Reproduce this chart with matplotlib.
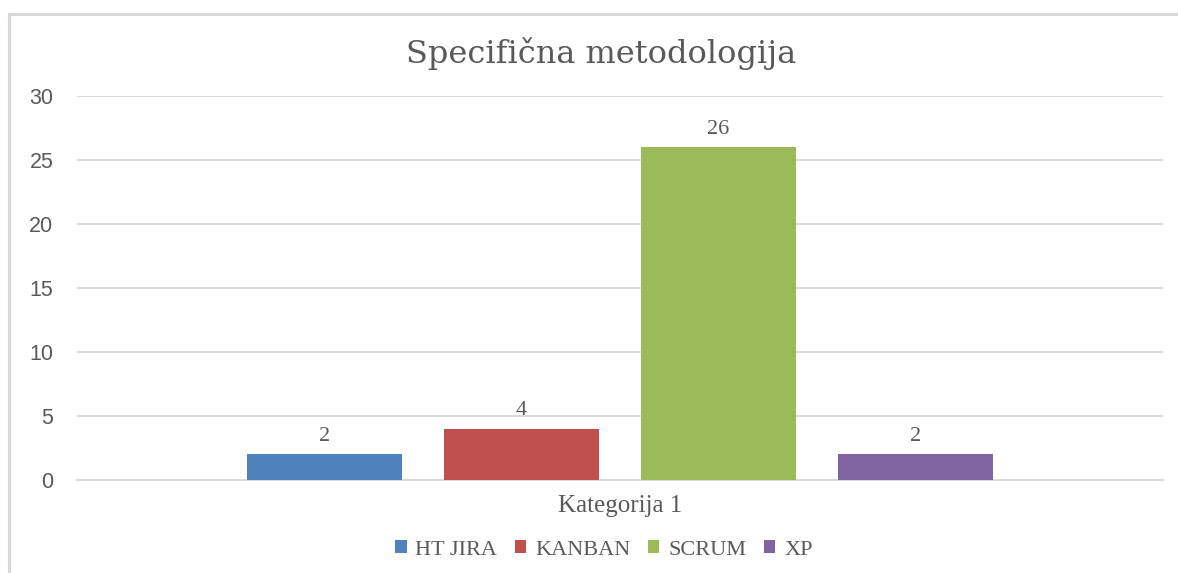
import matplotlib.pyplot as plt
from matplotlib.lines import Line2D
from matplotlib.patches import Patch
import numpy as np

# data
series = ["HT JIRA", "KANBAN", "SCRUM", "XP"]
values = [2, 4, 26, 2]
colors = ["#4f81bd", "#c0504d", "#9bbb59", "#8064a2"]
category = "Kategorija 1"
title = "Specifična metodologija"
y_ticks = [0, 5, 10, 15, 20, 25, 30]

text_color = "#595959"
grid_color = "#d9d9d9"

W, H = 1178, 573
fig = plt.figure(figsize=(W / 100, H / 100), dpi=100)
ax = fig.add_axes([77 / W, (H - 480) / H, (1163 - 77) / W, (480 - 96) / H])

bar_w = 0.1427
step = 0.1814
offsets = (np.arange(len(series)) - (len(series) - 1) / 2) * step
for off, name, val, col in zip(offsets, series, values, colors):
    bars = ax.bar(0.5 + off, val, width=bar_w, color=col, label=name, zorder=3)
    ax.bar_label(bars, labels=[str(val)], padding=6, fontsize=16,
                 family="Liberation Serif", color=text_color)

ax.set_xlim(0, 1)
ax.set_ylim(0, 30)
ax.set_yticks(y_ticks)
ax.set_yticklabels([str(t) for t in y_ticks], fontsize=15.5,
                   family="Liberation Sans", color=text_color)
ax.tick_params(axis="y", length=0, pad=17)
ax.set_xticks([0.5])
ax.set_xticklabels([category], fontsize=18, family="Liberation Serif", color=text_color)
ax.tick_params(axis="x", length=0, pad=11)
ax.grid(axis="y", color=grid_color, linewidth=1.5, zorder=0)
ax.set_axisbelow(True)
for side in ["left", "right", "top"]:
    ax.spines[side].set_visible(False)
ax.spines["bottom"].set_color(grid_color)
ax.spines["bottom"].set_linewidth(1.5)

fig.text(601 / W, 1 - 53 / H, title, ha="center", va="center", fontsize=23,
         family="DejaVu Serif", color=text_color)

handles = [Patch(facecolor=c, edgecolor="none") for c in colors]
fig.legend(handles, series, loc="center", bbox_to_anchor=(604 / W, 1 - 550 / H),
           ncol=4, frameon=False, handlelength=0.5, handleheight=0.5,
           handletextpad=0.4, columnspacing=0.8,
           prop={"family": "Liberation Serif", "size": 16}, labelcolor=text_color)

# chart frame (left and top edges)
fig.add_artist(Line2D([9 / W, 9 / W], [0, 1 - 14 / H], transform=fig.transFigure,
                      color=grid_color, linewidth=2.2))
fig.add_artist(Line2D([9 / W, 1], [1 - 14 / H, 1 - 14 / H], transform=fig.transFigure,
                      color=grid_color, linewidth=2.2))

fig.savefig("out.png", dpi=100)
